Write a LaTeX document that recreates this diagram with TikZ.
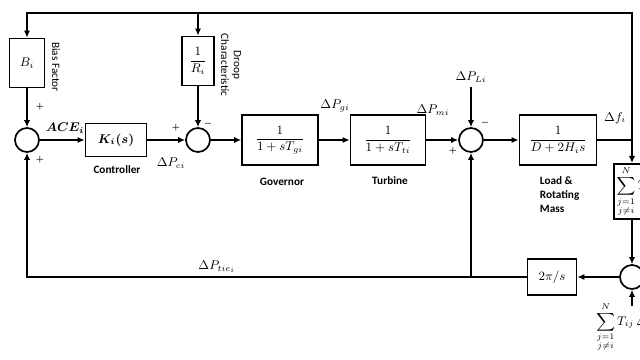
\documentclass[tikz,border=0pt]{standalone}
\usepackage{amsmath}
\usepackage{fontspec}
\usepackage{tikz}
\usetikzlibrary{arrows.meta,calc}
\newfontfamily\lblfont{Carlito}

\begin{document}
\begin{tikzpicture}[x=0.025cm,y=-0.025cm,font=\small,
    blk/.style={draw,line width=1.2pt,inner sep=1pt},
    sumnode/.style={draw,circle,line width=1.2pt,minimum size=0.6cm,inner sep=0pt},
    sig/.style={-{Latex[length=5pt,width=4.5pt]},line width=1.2pt},
    wire/.style={line width=1.2pt},
    boxlabel/.style={font=\lblfont\bfseries\fontsize{8}{10}\selectfont},
    sidelabel/.style={font=\lblfont\fontsize{8}{9}\selectfont,rotate=-90},
    sgn/.style={font=\tiny,inner sep=0pt}]
    \useasboundingbox (0,0) rectangle (640,360);
    \clip (0,0) rectangle (640,360);

    % forward path
    \node[blk,minimum width=0.88cm,minimum height=1.23cm] (bias) at (27,63) {$B_i$};
    \node[sidelabel] (biaslbl) at (56,67) {Bias Factor};
    \node[sumnode] (sumA) at (27,140) {};
    \node[blk,minimum width=1.53cm,minimum height=0.83cm] (ctrl) at (116,140) {$\boldsymbol{K_i(s)}$};
    \node[boxlabel] (ctrllbl) at (117,170) {Controller};
    \node[sumnode] (sumB) at (198,140) {};
    \node[blk,minimum width=0.8cm,minimum height=1.23cm] (droop) at (198,61) {$\dfrac{1}{R_i}$};
    \node[sidelabel,align=center] (drooplbl) at (231,65) {Droop\\Characteristic};
    \node[blk,minimum width=1.9cm,minimum height=1.25cm] (gov) at (280,140) {$\dfrac{1}{1+sT_{gi}}$};
    \node[boxlabel] (govlbl) at (282,182) {Governor};
    \node[blk,minimum width=1.88cm,minimum height=1.25cm] (turb) at (388,140) {$\dfrac{1}{1+sT_{ti}}$};
    \node[boxlabel] (turblbl) at (390,181) {Turbine};
    \node[sumnode] (sumC) at (471,140) {};
    \node (pl) at (471,77) {$\Delta P_{Li}$};
    \node[blk,minimum width=1.93cm,minimum height=1.25cm] (load) at (558,140) {$\dfrac{1}{D+2H_i s}$};
    \node[boxlabel,align=left,anchor=north west] (loadlbl) at (535,172) {Load \&\\Rotating\\Mass};

    % signal names
    \node (ace) at (65,128) {$\boldsymbol{ACE_i}$};
    \node (pc) at (171,163) {$\Delta P_{ci}$};
    \node (pg) at (335,106) {$\Delta P_{gi}$};
    \node (pm) at (433,110) {$\Delta P_{mi}$};
    \node (fi) at (615,118) {$\Delta f_i$};
    \node (ptie) at (217,267) {$\Delta P_{tie_i}$};

    % signs at the summing points
    \foreach \x/\y/\s [count=\k] in {40/107/+,40/160/+,176/128/+,208/124/-,485/123/-,453/151/+}
      \node[sgn] (sgn\k) at (\x,\y) {$\boldsymbol{\s}$};

    % tie-line part
    \coordinate (jf) at (632,140);
    \coordinate (topr) at (632,13);
    \node[blk,anchor=north west,inner xsep=2pt,minimum height=1.38cm] (tiesum) at (613,163)
      {$\displaystyle\sum_{\substack{j=1\\ j\neq i}}^{N} T_{ij}$};
    \node[sumnode] (sumD) at (632,277) {};
    \node[blk,minimum width=1.23cm,minimum height=0.9cm] (integ) at (552,277) {$2\pi/s$};
    \coordinate (jt) at (471,277);
    \node[anchor=north west,inner sep=0pt] (tiein) at (596,302)
      {$\displaystyle\sum_{\substack{j=1\\ j\neq i}}^{N} T_{ij}\,\Delta f_j$};
    \coordinate (tiefoot) at (632,306);

    % connections
    \draw[sig] (bias) -- (sumA);
    \draw[sig] (sumA) -- (ctrl);
    \draw[sig] (ctrl) -- (sumB);
    \draw[sig] (droop) -- (sumB);
    \draw[sig] (sumB) -- (gov);
    \draw[sig] (gov) -- (turb);
    \draw[sig] (turb) -- (sumC);
    \draw[sig] (pl) -- (sumC);
    \draw[sig] (sumC) -- (load);
    \draw[wire] (load) -- (jf);
    \draw[sig] (jf) -- (topr) -| (bias);
    \draw[sig] (droop |- topr) -- (droop);
    \draw[sig] (jf) -- (jf |- tiesum.north);
    \draw[sig] (jf |- tiesum.south) -- (sumD);
    \draw[sig] (tiefoot) -- (sumD);
    \draw[sig] (sumD) -- (integ);
    \draw[sig] (integ) -- (jt) -| (sumA);
    \draw[sig] (jt) -- (sumC);
\end{tikzpicture}
\end{document}
